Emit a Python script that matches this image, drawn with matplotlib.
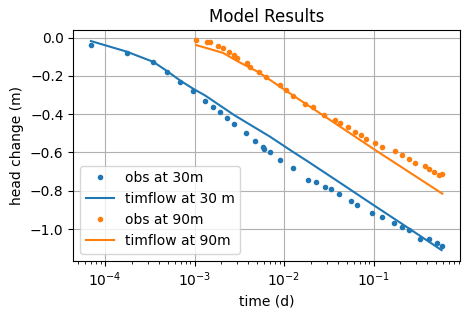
import numpy as np
import matplotlib
matplotlib.use("Agg")
import matplotlib.pyplot as plt

# observation times (minutes) and head change (m) at 30 m
t30_min = [0.1, 0.25, 0.5, 0.7, 1.0, 1.4, 1.9, 2.33, 2.8, 3.36, 4.0, 5.35, 6.8, 8.3, 8.7,
           10.0, 13.1, 18, 27, 33, 41, 48, 59, 80, 95, 139, 181, 245, 300, 360, 480, 600,
           728, 830]
h30 = [-0.04, -0.08, -0.13, -0.18, -0.23, -0.28, -0.33, -0.36, -0.39, -0.42, -0.45, -0.50,
       -0.54, -0.57, -0.58, -0.60, -0.64, -0.68, -0.742, -0.753, -0.779, -0.793, -0.819,
       -0.855, -0.873, -0.915, -0.935, -0.966, -0.990, -1.007, -1.050, -1.053, -1.072, -1.088]

# observation times (minutes) and head change (m) at 90 m
t90_min = [1.5, 2.0, 2.16, 2.66, 3.0, 3.5, 4.0, 4.33, 5.5, 6.0, 7.5, 9.0, 13.0, 15.0, 18.0,
           25.0, 30.0, 40.0, 53.0, 60.0, 75.0, 90.0, 105.0, 120.0, 150.0, 180.0, 248.0,
           301.0, 363.0, 422.0, 542.0, 602.0, 680.0, 785.0, 845.0]
h90 = [-0.015, -0.021, -0.023, -0.044, -0.054, -0.075, -0.090, -0.104, -0.133, -0.153,
       -0.178, -0.206, -0.250, -0.275, -0.305, -0.348, -0.364, -0.404, -0.429, -0.444,
       -0.467, -0.494, -0.507, -0.528, -0.550, -0.569, -0.593, -0.614, -0.636, -0.657,
       -0.672, -0.684, -0.700, -0.717, -0.712]

# model (timflow) values
m30_min = [0.1, 0.25, 0.5, 0.7, 1.0, 1.4, 1.9, 4.0, 10.0, 18, 27, 59, 139, 300, 830]
m30 = [-0.018, -0.073, -0.127, -0.173, -0.225, -0.268, -0.303, -0.405, -0.517, -0.596,
       -0.649, -0.754, -0.870, -0.973, -1.110]

m90_min = [1.5, 3.0, 4.33, 7.5, 18.0, 25.0, 60.0, 150.0, 845.0]
m90 = [-0.039, -0.080, -0.123, -0.181, -0.301, -0.345, -0.463, -0.587, -0.815]

MIN_PER_DAY = 1440.0

fig = plt.figure(figsize=(4.7, 3.19), dpi=100)
ax = fig.add_axes([0.156, 0.183, 0.8225, 0.723])

ax.semilogx(np.array(t30_min) / MIN_PER_DAY, h30, 'C0.', label='obs at 30m')
ax.semilogx(np.array(m30_min) / MIN_PER_DAY, m30, 'C0', label='timflow at 30 m')
ax.semilogx(np.array(t90_min) / MIN_PER_DAY, h90, 'C1.', label='obs at 90m')
ax.semilogx(np.array(m90_min) / MIN_PER_DAY, m90, 'C1', label='timflow at 90m')

ax.set_title('Model Results')
ax.set_xlabel('time (d)')
ax.set_ylabel('head change (m)')
ax.grid()
ax.legend(loc='lower left')

fig.savefig('out.png', dpi=100)
